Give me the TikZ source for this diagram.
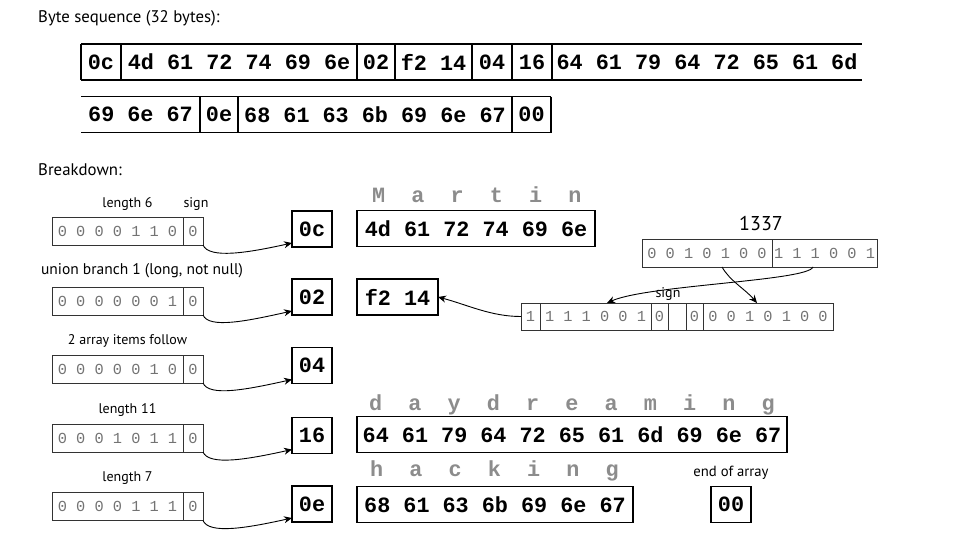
\documentclass[tikz,border=0pt]{standalone}
\usepackage{fontspec}
\setmainfont{PT Sans}
\setmonofont{Liberation Mono}
\usetikzlibrary{positioning,arrows.meta}

\tikzset{
  hexfont/.style={font=\ttfamily\bfseries\fontsize{21.8}{24}\selectfont},
  cell/.style={hexfont, inner sep=0pt, outer sep=0pt, minimum height=36pt},
  hexbox/.style={cell, draw, line width=1.8pt},
  ghost/.style={hexfont, text=black!45, inner sep=0pt, anchor=base west},
  bitbox/.style={draw=black!80, line width=0.7pt, inner sep=0pt, outer sep=0pt, minimum height=28pt,
    text=black!55, font=\ttfamily\fontsize{15.3}{17}\selectfont},
  head/.style={font=\fontsize{16.8}{19}\selectfont, inner sep=0pt, anchor=west},
  lbl/.style={font=\fontsize{14}{16}\selectfont, inner sep=0pt},
  link/.style={-{Stealth[length=8pt,width=7pt]}, line width=0.9pt}
}

\begin{document}
\begin{tikzpicture}[x=1pt,y=1pt]
	\useasboundingbox (0,0) rectangle (955,-543);

	\node[head] (seq) at (38,-18) {Byte sequence (32 bytes):};
	\node[head] (brk) at (38,-170) {Breakdown:};

	% the whole byte strip
	\node[cell, minimum width=40pt, anchor=west] (t1) at (81,-62) {0c};
	\node[cell, minimum width=236pt, right=0pt of t1] (t2) {4d 61 72 74 69 6e};
	\node[cell, minimum width=38pt, right=0pt of t2] (t3) {02};
	\node[cell, minimum width=77pt, right=0pt of t3] (t4) {f2 14};
	\node[cell, minimum width=40pt, right=0pt of t4] (t5) {04};
	\node[cell, minimum width=40pt, right=0pt of t5] (t6) {16};
	\node[cell, minimum width=310pt, right=0pt of t6] (t7) {64 61 79 64 72 65 61 6d};
	\draw[line width=1.8pt] (t1.north west) -- (t7.north east);
	\draw[line width=1.8pt] (t1.south west) -- (t7.south east);
	\foreach \c in {t1,t2,t3,t4,t5,t6,t7}
		\draw[line width=1.8pt] (\c.north west) -- (\c.south west);

	\node[cell, minimum width=119pt, anchor=west] (b1) at (81,-114.5) {69 6e 67};
	\node[cell, minimum width=38pt, right=0pt of b1] (b2) {0e};
	\node[cell, minimum width=274pt, right=0pt of b2] (b3) {68 61 63 6b 69 6e 67};
	\node[cell, minimum width=39pt, right=0pt of b3] (b4) {00};
	\draw[line width=1.8pt] (b1.north west) -- (b4.north east);
	\draw[line width=1.8pt] (b1.south west) -- (b4.south east);
	\foreach \c in {b1,b2,b3,b4}
		\draw[line width=1.8pt] (\c.north east) -- (\c.south east);

	% breakdown, left column
	\node[lbl] (l1) at (127.5,-204) {length 6};
	\node[lbl] (g1) at (196,-204) {sign};
	\node[bitbox, minimum width=131pt, anchor=west] (r1) at (52,-231) {0 0 0 0 1 1 0};
	\node[bitbox, minimum width=20pt, right=0pt of r1] (s1) {0};
	\node[hexbox, minimum width=40pt, anchor=west] (h1) at (292,-229) {0c};

	\node[lbl, font=\fontsize{15.5}{17}\selectfont] (l2) at (142,-271) {union branch 1 (long, not null)};
	\node[bitbox, minimum width=131pt, anchor=west] (r2) at (52,-301) {0 0 0 0 0 0 1};
	\node[bitbox, minimum width=20pt, right=0pt of r2] (s2) {0};
	\node[hexbox, minimum width=40pt, anchor=west] (h2) at (292,-297) {02};

	\node[lbl] (l3) at (127.5,-341) {2 array items follow};
	\node[bitbox, minimum width=131pt, anchor=west] (r3) at (52,-369) {0 0 0 0 0 1 0};
	\node[bitbox, minimum width=20pt, right=0pt of r3] (s3) {0};
	\node[hexbox, minimum width=40pt, anchor=west] (h3) at (292,-365.5) {04};

	\node[lbl] (l4) at (127.5,-410) {length 11};
	\node[bitbox, minimum width=131pt, anchor=west] (r4) at (52,-438) {0 0 0 1 0 1 1};
	\node[bitbox, minimum width=20pt, right=0pt of r4] (s4) {0};
	\node[hexbox, minimum width=40pt, anchor=west] (h4) at (292,-435.5) {16};

	\node[lbl] (l5) at (127.5,-478) {length 7};
	\node[bitbox, minimum width=131pt, anchor=west] (r5) at (52,-506.5) {0 0 0 0 1 1 1};
	\node[bitbox, minimum width=20pt, right=0pt of r5] (s5) {0};
	\node[hexbox, minimum width=40pt, anchor=west] (h5) at (292,-504) {0e};

	\foreach \i in {1,...,5}
		\draw[link] (s\i.south east) .. controls +(6,-14) and +(-45,-10) .. ([yshift=4pt]h\i.south west);

	% strings
	\node[ghost] (nameg) at (372,-202) {M~~a~~r~~t~~i~~n};
	\node[hexbox, minimum width=238pt, anchor=west] (name) at (357,-228.5) {4d 61 72 74 69 6e};
	\node[hexbox, minimum width=81pt, anchor=west] (num) at (357,-297) {f2 14};
	\node[ghost] (dayg) at (369,-410) {d~~a~~y~~d~~r~~e~~a~~m~~i~~n~~g};
	\node[hexbox, minimum width=430pt, anchor=west] (day) at (357,-434.5) {64 61 79 64 72 65 61 6d 69 6e 67};
	\node[ghost] (hackg) at (370,-476) {h~~a~~c~~k~~i~~n~~g};
	\node[hexbox, minimum width=276pt, anchor=west] (hack) at (357,-504.5) {68 61 63 6b 69 6e 67};
	\node[lbl, font=\fontsize{14.7}{16}\selectfont] (eoa) at (731,-473) {end of array};
	\node[hexbox, minimum width=40pt, anchor=west] (end) at (711,-504.5) {00};

	% zigzag of 1337
	\node[lbl, font=\fontsize{20}{22}\selectfont] (val) at (761,-223) {1337};
	\node[bitbox, minimum width=130pt, anchor=west] (u1) at (642,-253) {0 0 1 0 1 0 0};
	\node[bitbox, minimum width=105pt, right=0pt of u1] (u2) {1 1 1 0 0 1};

	\node[bitbox, minimum width=19pt, minimum height=27pt, anchor=west] (v1) at (521,-316.5) {1};
	\node[bitbox, minimum width=111pt, minimum height=27pt, right=0pt of v1] (v2) {1 1 1 0 0 1};
	\node[bitbox, minimum width=17pt, minimum height=27pt, right=0pt of v2] (v3) {0};
	\node[bitbox, minimum width=18pt, minimum height=27pt, right=0pt of v3] (v4) {};
	\node[bitbox, minimum width=17pt, minimum height=27pt, right=0pt of v4] (v5) {0};
	\node[bitbox, minimum width=130pt, minimum height=27pt, right=0pt of v5] (v6) {0 0 1 0 1 0 0};
	\node[lbl] (g2) at (668,-294) {sign};

	\draw[link] ([xshift=-11.5pt]u2.south) .. controls +(-5,-14) and +(40,18) .. ([xshift=11.5pt]v2.north);
	\draw[link] ([xshift=15pt]u1.south) .. controls +(8,-14) and +(-12,14) .. ([xshift=-11pt]v6.north);
	\draw[link] (v1.west) .. controls +(-30,0) and +(30,-8) .. (num.east);
\end{tikzpicture}
\end{document}
